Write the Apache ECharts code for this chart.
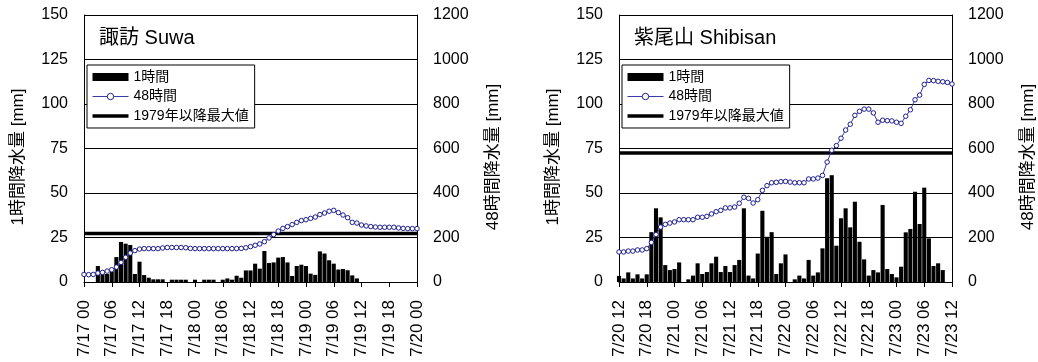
<!DOCTYPE html>
<html>
<head>
<meta charset="utf-8">
<script src="https://cdn.jsdelivr.net/npm/echarts@6/dist/echarts.min.js"></script>
<style>
  html, body { margin: 0; padding: 0; background: #fff; }
  #chart { width: 1038px; height: 362px; }
</style>
</head>
<body>
<div id="chart"></div>
<script>
// hourly values, index = hours from the left end of each axis (0..72)
const suwaTicks = ['7/17 00', '7/17 06', '7/17 12', '7/17 18', '7/18 00', '7/18 06', '7/18 12',
  '7/18 18', '7/19 00', '7/19 06', '7/19 12', '7/19 18', '7/20 00'];
const suwaHourly = [0, 0, 0, 9, 4.5, 4.5, 5.8, 14, 22.5, 21.5, 20.8, 4.5, 11.4, 3.9, 2.4, 1.5, 1.5, 1.5,
  0, 1.3, 1.3, 1.3, 1.3, 0, 1.3, 0, 1.3, 1.3, 1.3, 0, 1.3, 2, 1.3, 3.5, 2.4, 6.5, 6.5, 10.3, 7.5, 17.4,
  10.7, 11, 13.7, 14, 11, 3.4, 9, 9.7, 9, 4.7, 4, 17.2, 16, 12.2, 10.3, 7, 7.3, 6.6, 3.7, 2,
  0, 0, 0, 0, 0, 0, 0, 0, 0, 0, 0, 0, 0];
const suwa48h = [34, 33, 34, 40, 43, 49, 55, 67, 88, 111, 130, 141, 148, 150, 150, 150, 150, 153, 155, 155,
  155, 155, 154, 151, 150, 150, 150, 150, 150, 150, 150, 150, 150, 150, 151, 154, 159, 165, 171, 181,
  198, 213, 229, 241, 249, 258, 268, 276, 280, 286, 292, 303, 310, 318, 322, 312, 301, 289, 268, 265,
  256, 252, 249, 247, 246, 246, 246, 246, 243, 241, 240, 240, 240];
const suwaMax = 27.2;

const shibiTicks = ['7/20 12', '7/20 18', '7/21 00', '7/21 06', '7/21 12', '7/21 18', '7/22 00',
  '7/22 06', '7/22 12', '7/22 18', '7/23 00', '7/23 06', '7/23 12'];
const shibiHourly = [3.4, 2, 5.4, 2, 4.3, 2, 4.3, 28, 41.4, 36.3, 9.5, 6.7, 7.3, 11, 0, 1.5, 3.6, 10.5,
  4.5, 5.6, 10.5, 14.2, 5.6, 9, 5.6, 9.5, 12.4, 41.4, 3.6, 2, 16, 40, 25.4, 28, 4.5, 10.5, 15.5, 0,
  1.5, 3.6, 2, 12.4, 3.6, 5.4, 18.9, 58.3, 60, 20.4, 35.8, 41.4, 30.7, 45.1, 22.6, 12.7, 3.6, 6.7,
  5.4, 43.3, 7.3, 4.5, 2.6, 8.6, 27.9, 29.8, 50.7, 32.6, 53, 24.5, 9, 10.5, 6.7, 0, 0];
const shibi48h = [135, 135, 139, 139, 144, 144, 150, 178, 213, 247, 259, 265, 270, 280, 280, 280, 280, 291,
  291, 295, 306, 316, 322, 333, 333, 337, 354, 381, 376, 355, 370, 412, 433, 446, 448, 451, 452, 449,
  446, 446, 446, 463, 463, 467, 479, 539, 592, 613, 646, 683, 709, 749, 767, 777, 777, 760, 718, 727,
  725, 724, 718, 713, 745, 774, 819, 840, 888, 906, 905, 902, 900, 897, 890];
const shibiMax = 72.5;

const FONT = '"Liberation Sans", Arial, "Noto Sans CJK JP", sans-serif';
// thick line legend icon: tiny corner specks keep the bounding box at 36x8
const THICK_LINE_ICON = 'path://M0,0h0.01v0.01h-0.01z M0,8h0.01v0.01h-0.01z M0,2.2h36v3.6h-36z';

const chart = echarts.init(document.getElementById('chart'), null, { renderer: 'canvas' });

const option = {
  animation: false,
  backgroundColor: '#fff',
  textStyle: { fontFamily: FONT, color: '#000' },
  title: [], legend: [], grid: [], xAxis: [], yAxis: [], series: []
};

function addPanel(i, left, name, ticks, hourly, total48, maxVal) {
  option.grid.push({ left: left, top: 15, width: 333, height: 267 });

  option.title.push({
    text: name, left: left + 15, top: 28, padding: 0,
    textStyle: { fontSize: 20, fontWeight: 'normal', color: '#000', fontFamily: FONT }
  });

  option.legend.push({
    orient: 'vertical', left: left + 3, top: 65,
    backgroundColor: '#fff', borderColor: '#000', borderWidth: 1,
    padding: [5, 6, 5, 5], itemWidth: 36, itemHeight: 8, itemGap: 5.5,
    selectedMode: false,
    textStyle: { fontSize: 14, color: '#000', fontFamily: FONT },
    data: [
      { name: '1時間', icon: 'rect' },
      { name: '48時間', lineStyle: { width: 1, color: '#3838a8' }, itemStyle: { borderWidth: 1 } },
      { name: '1979年以降最大値', icon: THICK_LINE_ICON, itemStyle: { color: '#000' } }
    ]
  });

  option.xAxis.push({
    type: 'value', gridIndex: i, min: 0, max: 72, interval: 6,
    axisLine: { show: true, lineStyle: { color: '#000' } },
    axisTick: { show: true, length: 5, lineStyle: { color: '#000' } },
    splitLine: { show: false },
    axisLabel: {
      rotate: 90, margin: 18, fontSize: 17, color: '#000', fontFamily: FONT,
      showMinLabel: true, showMaxLabel: true,
      formatter: v => ticks[Math.round(v / 6)]
    }
  });

  option.yAxis.push({
    type: 'value', gridIndex: i, position: 'left', min: 0, max: 150, interval: 25,
    axisLine: { show: true, lineStyle: { color: '#000' } },
    axisTick: { show: false },
    splitLine: { show: true, lineStyle: { color: '#000', width: 1 } },
    axisLabel: { margin: 16, fontSize: 16, color: '#000', fontFamily: FONT, formatter: v => String(v) },
    name: '1時間降水量 [mm]', nameLocation: 'middle', nameRotate: 90, nameGap: 57,
    nameTextStyle: { fontSize: 17, color: '#000', fontFamily: FONT, padding: [0, 17, 0, 0] }
  });
  option.yAxis.push({
    type: 'value', gridIndex: i, position: 'right', min: 0, max: 1200, interval: 200,
    axisLine: { show: true, lineStyle: { color: '#000' } },
    axisTick: { show: false },
    splitLine: { show: false },
    axisLabel: { margin: 16, fontSize: 16, color: '#000', fontFamily: FONT, formatter: v => String(v) },
    name: '48時間降水量 [mm]', nameLocation: 'middle', nameRotate: 90, nameGap: 68,
    nameTextStyle: { fontSize: 17, color: '#000', fontFamily: FONT, padding: [0, 17, 0, 0] }
  });

  option.series.push({
    type: 'bar', name: '1時間', xAxisIndex: i, yAxisIndex: 2 * i,
    data: hourly.map((v, h) => [h, v]),
    barWidth: 4.1, itemStyle: { color: '#000' }, z: 2
  });
  option.series.push({
    type: 'line', name: '1979年以降最大値', xAxisIndex: i, yAxisIndex: 2 * i,
    data: [[0, maxVal], [72, maxVal]],
    symbol: 'none', itemStyle: { color: '#000' },
    lineStyle: { color: '#000', width: 3.5 }, z: 3
  });
  option.series.push({
    type: 'line', name: '48時間', xAxisIndex: i, yAxisIndex: 2 * i + 1,
    data: total48.map((v, h) => [h, v]),
    symbol: 'circle', symbolSize: 4.5, showSymbol: true, showAllSymbol: true,
    itemStyle: { color: '#fff', borderColor: '#1e1e8f', borderWidth: 1 },
    lineStyle: { color: '#3838a8', width: 1 }, z: 4
  });
}

addPanel(0, 84, '諏訪 Suwa', suwaTicks, suwaHourly, suwa48h, suwaMax);
addPanel(1, 619, '紫尾山 Shibisan', shibiTicks, shibiHourly, shibi48h, shibiMax);

chart.setOption(option);
</script>
</body>
</html>
